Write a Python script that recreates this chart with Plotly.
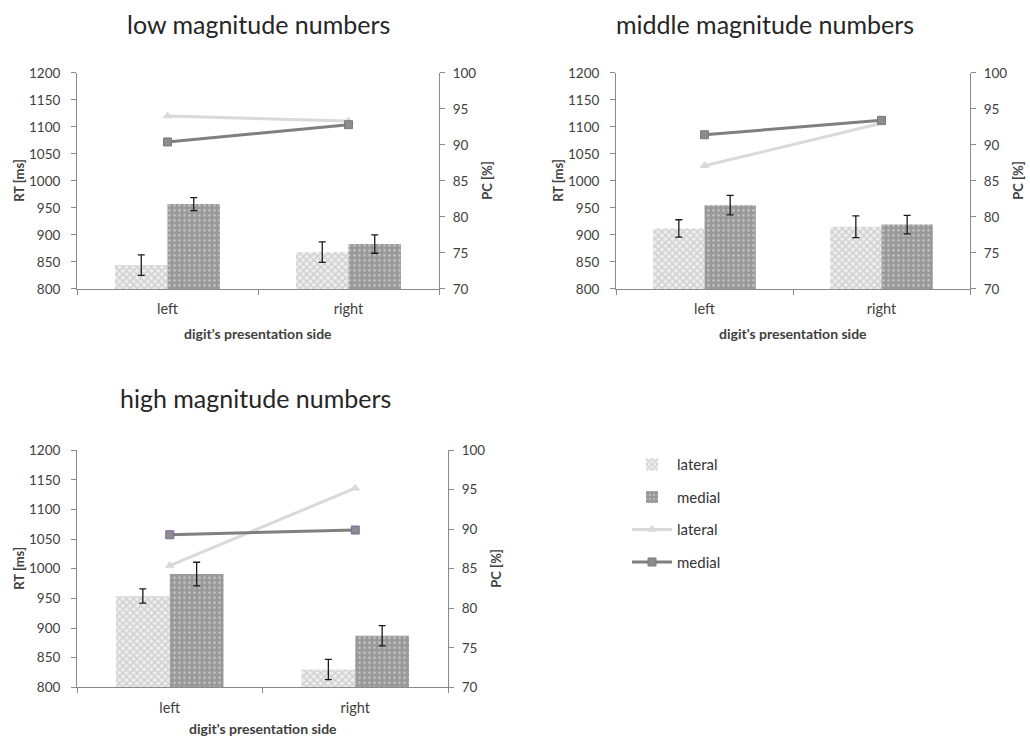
import plotly.graph_objects as go

W, H = 1030, 738

sides = ["left", "right"]

# Reaction times (bars) with error bars, and percent correct (lines)
low_lateral_rt = [844, 868]
low_lateral_err = [19, 19]
low_medial_rt = [957, 883]
low_medial_err = [12, 17]
low_lateral_pc = [94.0, 93.3]
low_medial_pc = [90.4, 92.8]

mid_lateral_rt = [912, 915]
mid_lateral_err = [16, 20]
mid_medial_rt = [955, 919]
mid_medial_err = [18, 17]
mid_lateral_pc = [87.1, 93.0]
mid_medial_pc = [91.4, 93.4]

high_lateral_rt = [954, 830]
high_lateral_err = [12, 17]
high_medial_rt = [991, 887]
high_medial_err = [20, 17]
high_lateral_pc = [85.4, 95.2]
high_medial_pc = [89.3, 89.9]

panel_titles = ["low magnitude numbers", "middle magnitude numbers", "high magnitude numbers"]

FONT = "Lato"
AXIS_GREY = "#8a8a8a"
TEXT = "#404040"


def px_x(x):
    return x / W


def px_y(y):
    # vertical pixel position (from top) -> paper fraction, with the page's top inset
    return 1 - (y - 7.9) / 721.8


# panel boxes in pixels: (x0, x1, y_top, y_bottom)
boxes = [(77, 439, 72.7, 288.7), (616, 970, 72.7, 288.7), (77, 448, 450, 687)]
title_pos = [(258, 24), (765, 24), (255, 398)]
xtitle_y = [333, 333, 728]

panels = [
    (low_lateral_rt, low_lateral_err, low_medial_rt, low_medial_err, low_lateral_pc, low_medial_pc),
    (mid_lateral_rt, mid_lateral_err, mid_medial_rt, mid_medial_err, mid_lateral_pc, mid_medial_pc),
    (high_lateral_rt, high_lateral_err, high_medial_rt, high_medial_err, high_lateral_pc, high_medial_pc),
]

fig = go.Figure()
layout = {}
annotations = []

for i, (box, data) in enumerate(zip(boxes, panels)):
    x0, x1, yt, yb = box
    lat_rt, lat_err, med_rt, med_err, lat_pc, med_pc = data
    xa = "x" if i == 0 else f"x{i + 1}"
    ya = f"y{2 * i + 1}" if i > 0 else "y"
    yb_name = f"y{2 * i + 2}"
    xkey = "xaxis" if i == 0 else f"xaxis{i + 1}"
    ykey = "yaxis" if i == 0 else f"yaxis{2 * i + 1}"
    y2key = f"yaxis{2 * i + 2}"
    first = i == 0

    err_style = dict(type="data", visible=True, color="#1a1a1a", thickness=1.3, width=3.5)

    fig.add_trace(go.Bar(
        x=sides, y=lat_rt, name="lateral", xaxis=xa, yaxis=ya,
        error_y=dict(array=lat_err, **err_style),
        marker=dict(color="white", line=dict(width=0),
                    pattern=dict(shape="x", fgcolor="#b4b4b4", bgcolor="#eeeeee",
                                 size=5, solidity=0.5)),
        showlegend=first, legendgroup="a", legendrank=1,
    ))
    fig.add_trace(go.Bar(
        x=sides, y=med_rt, name="medial", xaxis=xa, yaxis=ya,
        error_y=dict(array=med_err, **err_style),
        marker=dict(color="#999999", line=dict(width=0),
                    pattern=dict(shape=".", fgcolor="#f2f2f2", bgcolor="#999999",
                                 size=5, solidity=0.2)),
        showlegend=first, legendgroup="b", legendrank=2,
    ))
    fig.add_trace(go.Scatter(
        x=sides, y=lat_pc, name="lateral", xaxis=xa, yaxis=yb_name,
        mode="lines+markers",
        line=dict(color="#d9d9d9", width=3),
        marker=dict(symbol="triangle-up", size=9, color="#d9d9d9"),
        showlegend=first, legendgroup="c", legendrank=3,
    ))
    med_marker_edge = "#8064a2" if i == 2 else "#7a7a7a"
    fig.add_trace(go.Scatter(
        x=sides, y=med_pc, name="medial", xaxis=xa, yaxis=yb_name,
        mode="lines+markers",
        line=dict(color="#7f7f7f", width=3),
        marker=dict(symbol="square", size=8, color="#8c8c8c",
                    line=dict(color=med_marker_edge, width=1)),
        showlegend=first, legendgroup="d", legendrank=4,
    ))

    dom_x = [px_x(x0), px_x(x1)]
    dom_y = [px_y(yb), px_y(yt)]

    layout[xkey] = dict(
        domain=dom_x, anchor=ya, type="category",
        showline=True, linecolor=AXIS_GREY, linewidth=1,
        ticks="outside", tickson="boundaries", ticklen=5, tickcolor=AXIS_GREY,
        ticklabelstandoff=7,
        tickfont=dict(family=FONT, size=14.5, color=TEXT),
        showgrid=False, zeroline=False, fixedrange=True,
    )
    layout[ykey] = dict(
        domain=dom_y, anchor=xa, range=[800, 1200], dtick=50,
        showline=True, linecolor=AXIS_GREY, linewidth=1,
        ticks="outside", ticklen=5, tickcolor=AXIS_GREY, ticklabelstandoff=8,
        tickfont=dict(family=FONT, size=13.5, color=TEXT),
        showgrid=False, zeroline=False,
    )
    layout[y2key] = dict(
        overlaying=ya, side="right", anchor=xa, range=[70, 100], dtick=5,
        showline=True, linecolor=AXIS_GREY, linewidth=1,
        ticks="outside", ticklen=5, tickcolor=AXIS_GREY, ticklabelstandoff=5,
        tickfont=dict(family=FONT, size=13.5, color=TEXT),
        showgrid=False, zeroline=False,
    )

    cx = (x0 + x1) / 2
    cy = (yt + yb) / 2
    tx, ty = title_pos[i]
    annotations.append(dict(
        text=panel_titles[i], x=px_x(tx), y=px_y(ty), xref="paper", yref="paper",
        showarrow=False, xanchor="center", yanchor="middle",
        font=dict(family=FONT, size=25, color="#262626"),
    ))
    annotations.append(dict(
        text="<b>RT [ms]</b>", x=px_x(x0 - 58), y=px_y(cy), xref="paper", yref="paper",
        showarrow=False, textangle=-90, xanchor="center", yanchor="middle",
        font=dict(family=FONT, size=13, color=TEXT),
    ))
    annotations.append(dict(
        text="<b>PC [%]</b>", x=px_x(x1 + 48), y=px_y(cy), xref="paper", yref="paper",
        showarrow=False, textangle=-90, xanchor="center", yanchor="middle",
        font=dict(family=FONT, size=13, color=TEXT),
    ))
    annotations.append(dict(
        text="<b>digit's presentation side</b>", x=px_x(cx), y=px_y(xtitle_y[i]),
        xref="paper", yref="paper", showarrow=False, xanchor="center", yanchor="middle",
        font=dict(family=FONT, size=14, color=TEXT),
    ))

fig.update_layout(
    width=W, height=H,
    margin=dict(l=0, r=0, t=0, b=0),
    paper_bgcolor="white", plot_bgcolor="white",
    barmode="group", bargap=0.42, bargroupgap=0,
    annotations=annotations,
    legend=dict(
        x=px_x(627), y=px_y(448), xanchor="left", yanchor="top",
        font=dict(family=FONT, size=15, color="#333333"),
        tracegroupgap=10, itemwidth=40, bgcolor="rgba(0,0,0,0)",
    ),
    **layout,
)

fig.write_html("out.html")
